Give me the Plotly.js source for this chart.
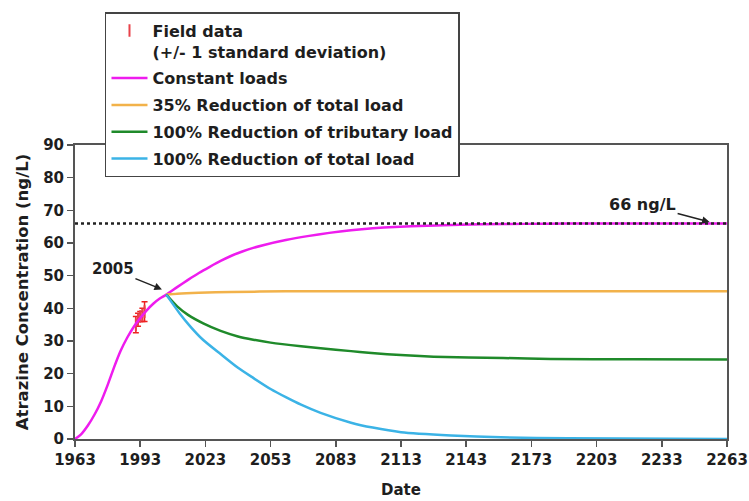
<!DOCTYPE html>
<html>
<head>
<meta charset="utf-8">
<script src="https://cdn.plot.ly/plotly-3.0.1.min.js"></script>
<style>html,body{margin:0;padding:0;background:#fff;}#chart{width:749px;height:501px;}</style>
</head>
<body>
<div id="chart"></div>
<script>
// Field data (+/- 1 standard deviation)
const fieldYears = [1991, 1992, 1993, 1994, 1995];
const fieldMeans = [35, 36.5, 37.5, 38, 39];
const fieldSD    = [2.5, 2, 1.5, 2, 3];

// Constant loads
const constYears = [1963,1966,1969,1972,1975,1978,1981,1984,1987,1990,1993,1996,1999,2002,2005,2010,2015,2020,2025,2030,2035,2040,2045,2050,2060,2070,2080,2090,2100,2110,2125,2140,2160,2180,2200,2263];
const constVals  = [0,1.6,4.2,7.5,11.5,16.5,22,27,31,34.3,37,39.4,41.4,43,44.2,46.5,48.7,50.8,52.7,54.5,56.1,57.4,58.5,59.4,60.9,62.1,63.1,63.9,64.5,64.9,65.3,65.6,65.8,65.9,66,66];

// 35% Reduction of total load
const r35Years = [2005,2010,2020,2035,2060,2100,2263];
const r35Vals  = [44.2,44.5,44.8,45.0,45.2,45.25,45.25];

// 100% Reduction of tributary load
const tribYears = [2005,2010,2015,2022,2030,2038,2045,2053,2067,2076,2090,2098,2115,2128,2160,2182,2220,2263];
const tribVals  = [44.2,40.6,38.0,35.4,33.1,31.4,30.4,29.5,28.4,27.8,26.9,26.4,25.6,25.2,24.8,24.5,24.4,24.3];

// 100% Reduction of total load
const totYears = [2005,2011,2016,2022,2030,2038,2045,2053,2060,2067,2076,2090,2100,2113,2136,2159,2190,2263];
const totVals  = [44.2,38.6,34.5,30.3,26.0,21.8,18.7,15.3,12.8,10.5,8.0,5.0,3.5,2.1,1.1,0.5,0.2,0];

// Reference level
const refLevel = 66;
const xRange = [1963, 2263];

const FONT = 'DejaVu Sans, Arial, sans-serif';
const INK = '#1e1e1e';

const traces = [
  {
    x: fieldYears, y: fieldMeans, type: 'scatter', mode: 'markers',
    name: 'Field data<br>(+/- 1 standard deviation)', legendgroup: 'a',
    marker: {symbol: 'line-ns-open', size: 9, color: '#e8424a', line: {color: '#e8424a', width: 2}},
    error_y: {type: 'data', array: fieldSD, visible: true, color: '#ee2020', thickness: 1.5, width: 3}
  },
  {x: constYears, y: constVals, type: 'scatter', mode: 'lines', name: 'Constant loads', legendgroup: 'b',
   line: {color: '#ee1cee', width: 2.5, shape: 'spline', smoothing: 0.6}},
  {x: r35Years, y: r35Vals, type: 'scatter', mode: 'lines', name: '35% Reduction of total load', legendgroup: 'c',
   line: {color: '#f2b24a', width: 2.5, shape: 'spline', smoothing: 0.6}},
  {x: tribYears, y: tribVals, type: 'scatter', mode: 'lines', name: '100% Reduction of tributary load', legendgroup: 'd',
   line: {color: '#1f8a2a', width: 2.5, shape: 'spline', smoothing: 0.6}},
  {x: totYears, y: totVals, type: 'scatter', mode: 'lines', name: '100% Reduction of total load', legendgroup: 'e',
   line: {color: '#3bb3e6', width: 2.5, shape: 'spline', smoothing: 0.6}},
  {x: xRange, y: [refLevel, refLevel], type: 'scatter', mode: 'lines', showlegend: false, hoverinfo: 'skip',
   line: {color: '#222', width: 2.5, dash: 'dot'}}
];

const layout = {
  width: 749, height: 501,
  margin: {l: 75, r: 22, t: 145, b: 62, autoexpand: false},
  paper_bgcolor: '#fff', plot_bgcolor: '#fff',
  font: {family: FONT, size: 15, color: INK, weight: 'bold'},
  showlegend: true,
  legend: {
    x: 0.046, y: 1.452, xanchor: 'left', yanchor: 'top',
    bgcolor: '#fff', bordercolor: '#444', borderwidth: 1.5,
    font: {family: FONT, size: 16, color: INK, weight: 'bold'},
    tracegroupgap: 3, valign: 'top', traceorder: 'grouped',
    itemwidth: 36
  },
  xaxis: {
    range: xRange, tick0: 1963, dtick: 30, tickmode: 'linear',
    showgrid: false, zeroline: false,
    showline: true, linecolor: '#555', linewidth: 2, mirror: true,
    ticks: 'outside', ticklen: 6, tickcolor: '#555', tickwidth: 1.5,
    tickfont: {family: FONT, size: 15, color: INK, weight: 'bold'},
    title: {text: 'Date', font: {family: FONT, size: 15, color: INK, weight: 'bold'}, standoff: 16}
  },
  yaxis: {
    range: [0, 90], dtick: 10, tick0: 0, tickmode: 'linear',
    showgrid: false, zeroline: false,
    showline: true, linecolor: '#555', linewidth: 2, mirror: true,
    ticks: 'outside', ticklen: 6, tickcolor: '#555', tickwidth: 1.5,
    tickfont: {family: FONT, size: 15, color: INK, weight: 'bold'},
    title: {text: 'Atrazine Concentration (ng/L)', font: {family: FONT, size: 16.5, color: INK, weight: 'bold'}, standoff: 10}
  },
  annotations: [
    {x: 2003, y: 45.8, xref: 'x', yref: 'y', text: '2005', showarrow: true,
     ax: -49, ay: -20, arrowhead: 2, arrowsize: 1, arrowwidth: 1.5, arrowcolor: '#222',
     font: {family: FONT, size: 15, color: INK, weight: 'bold'}},
    {x: 2255, y: 66.4, xref: 'x', yref: 'y', text: '66 ng/L', showarrow: true,
     ax: -67, ay: -18, arrowhead: 2, arrowsize: 1, arrowwidth: 1.5, arrowcolor: '#222',
     font: {family: FONT, size: 16, color: INK, weight: 'bold'}}
  ]
};

Plotly.newPlot('chart', traces, layout, {displayModeBar: false, staticPlot: true});
</script>
</body>
</html>
